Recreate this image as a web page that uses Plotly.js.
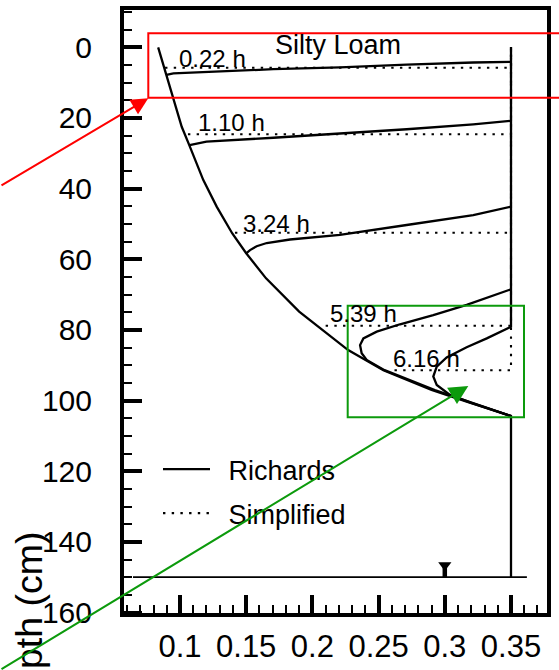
<!DOCTYPE html>
<html><head><meta charset="utf-8">
<script src="https://cdn.plot.ly/plotly-3.0.1.min.js"></script>
<style>html,body{margin:0;padding:0;background:#fff}#chart{width:559px;height:670px}</style>
</head><body><div id="chart"></div>
<script>
// ---- data (water content theta vs depth, cm) ----
const envTheta = [0.0835, 0.0895, 0.0950, 0.1013, 0.1070, 0.1176, 0.1277, 0.1395, 0.1500, 0.1650, 0.1900, 0.2270, 0.2536, 0.2900, 0.3165, 0.3505];
const envDepth = [0, 7.4, 14.9, 22.5, 27.7, 37.6, 45.1, 52.7, 58.3, 65.4, 74.8, 85.7, 91.4, 97.0, 100.3, 104.4];

const r022Theta = [0.35, 0.3215, 0.2712, 0.2208, 0.1705, 0.1200, 0.0950, 0.0898];
const r022Depth = [4.1, 4.3, 4.9, 5.7, 6.2, 6.9, 7.4, 7.8];
const r110Theta = [0.35, 0.3215, 0.2712, 0.2208, 0.1705, 0.1200, 0.1072];
const r110Depth = [20.8, 21.8, 23.2, 24.5, 25.6, 26.7, 27.7];
const r324Theta = [0.35, 0.3215, 0.2712, 0.2208, 0.1831, 0.1655, 0.1579, 0.1529, 0.1500];
const r324Depth = [45.1, 47.5, 50.3, 53.1, 54.4, 55.4, 56.3, 57.4, 58.3];
const r539Theta = [0.35, 0.3165, 0.2913, 0.2662, 0.2486, 0.2385, 0.2360, 0.2372, 0.2410, 0.2486, 0.2545, 0.2925, 0.3185, 0.35];
const r539Depth = [68.5, 72.9, 75.8, 78.4, 80.5, 82.4, 84.3, 86.6, 88.5, 90.2, 91.4, 97.0, 100.3, 104.4];
const r616Theta = [0.35, 0.35, 0.3317, 0.3165, 0.3014, 0.2939, 0.2913, 0.2939, 0.3039, 0.3195, 0.35, 0.35];
const r616Depth = [0, 79.1, 82.4, 84.9, 87.8, 90.4, 93.2, 95.6, 98.4, 100.6, 104.4, 150];

const thetaSat = 0.35;
const simpFrontDepth = [5.8, 24.6, 52.5, 78.8, 91.4];
const simpFrontTheta0 = [0.0887, 0.1060, 0.1415, 0.2100, 0.2620];
const timeLabels = ["0.22 h", "1.10 h", "3.24 h", "5.39 h", "6.16 h"];
const labelTheta = [0.0980, 0.1123, 0.1463, 0.2117, 0.2597];
const labelDepth = [3.2, 21.3, 49.8, 75.3, 88.2];

const waterTableDepth = 150;
const waterTableTheta = [0.0645, 0.362];
const wtMarkerTheta = 0.30;
const wtMarkerDepth = 146.6;

const xTickVals = [0.1, 0.15, 0.2, 0.25, 0.3, 0.35];
const xTickText = ["0.1", "0.15", "0.2", "0.25", "0.3", "0.35"];
const yTickVals = [0, 20, 40, 60, 80, 100, 120, 140, 160];
const yTickText = ["0", "20", "40", "60", "80", "100", "120", "140", "160"];

const FONT = "Liberation Sans, Arial, Helvetica, sans-serif";
const solid = {color: "black", width: 2.3};
const dotted = {color: "black", width: 2.1, dash: "2.4px,6.3px"};

const traces = [];
// simplified (dotted) profiles first so solid lines sit on top
simpFrontDepth.forEach((d, i) => {
  traces.push({
    type: "scatter", mode: "lines",
    x: [simpFrontTheta0[i], thetaSat, thetaSat],
    y: [d, d, 0],
    line: dotted, name: "\u2002Simplified", legendgroup: "s",
    showlegend: i === 0, legendrank: 2, hoverinfo: "skip"
  });
});
traces.push({type: "scatter", mode: "lines", x: envTheta, y: envDepth, line: solid,
  name: "\u2002Richards", legendgroup: "r", showlegend: true, legendrank: 1, hoverinfo: "skip"});
[[r022Theta, r022Depth], [r110Theta, r110Depth], [r324Theta, r324Depth],
 [r539Theta, r539Depth], [r616Theta, r616Depth]].forEach(p => {
  traces.push({type: "scatter", mode: "lines", x: p[0], y: p[1], line: solid,
    showlegend: false, hoverinfo: "skip"});
});
traces.push({type: "scatter", mode: "lines", x: waterTableTheta,
  y: [waterTableDepth, waterTableDepth], line: {color: "black", width: 1.8},
  showlegend: false, hoverinfo: "skip"});
traces.push({type: "scatter", mode: "lines", x: [wtMarkerTheta, wtMarkerTheta],
  y: [wtMarkerDepth, waterTableDepth], line: {color: "black", width: 4.5},
  showlegend: false, hoverinfo: "skip"});
traces.push({type: "scatter", mode: "markers", x: [wtMarkerTheta], y: [wtMarkerDepth],
  marker: {symbol: "triangle-down", size: 11.5, color: "black"},
  showlegend: false, hoverinfo: "skip"});

// plot area in pixels
const L = 122, R = 10, T = 8, B = 55, W = 559 - L - R, H = 670 - T - B;
const px = v => (v - L) / W;
const py = v => (670 - B - v) / H;

const annotations = timeLabels.map((t, i) => ({
  x: labelTheta[i], y: labelDepth[i], xref: "x", yref: "y", text: t,
  showarrow: false, xanchor: "left", yanchor: "middle",
  font: {family: FONT, size: 24, color: "black"}
}));
annotations.push({x: 0.2193, y: -0.65, xref: "x", yref: "y", text: "Silty Loam",
  showarrow: false, xanchor: "center", yanchor: "middle",
  font: {family: FONT, size: 27, color: "black"}});
annotations.push({x: px(29), y: py(625), xref: "paper", yref: "paper", text: "Depth (cm)",
  textangle: -90, showarrow: false, xanchor: "center", yanchor: "middle",
  font: {family: FONT, size: 37.5, color: "black"}});
// overlay arrows
annotations.push({x: px(148.3), y: py(98.3), xref: "paper", yref: "paper", text: "",
  showarrow: true, ax: -148.3, ay: 88, arrowhead: 2, arrowsize: 1.7, arrowwidth: 2,
  arrowcolor: "#ff0000", standoff: 0});
annotations.push({x: px(468.3), y: py(386), xref: "paper", yref: "paper", text: "",
  showarrow: true, ax: -468.3, ay: 285.7, arrowhead: 2, arrowsize: 1.9, arrowwidth: 2,
  arrowcolor: "#0c9a0c", standoff: 0});

const shapes = [
  {type: "rect", xref: "paper", yref: "paper", x0: 0, x1: 1, y0: 0, y1: 1,
   line: {color: "black", width: 4}, layer: "above"},
  {type: "rect", xref: "paper", yref: "paper", x0: px(148.3), x1: px(575), y0: py(33.3), y1: py(97.7),
   line: {color: "#ff0000", width: 2}, layer: "above"},
  {type: "rect", xref: "paper", yref: "paper", x0: px(347.7), x1: px(524), y0: py(305.7), y1: py(417.3),
   line: {color: "#0c9a0c", width: 2}, layer: "above"}
];

const layout = {
  width: 559, height: 670,
  margin: {l: L, r: R, t: T, b: B, pad: 0},
  paper_bgcolor: "white", plot_bgcolor: "white",
  font: {family: FONT, color: "black"},
  showlegend: true,
  legend: {x: px(158), y: py(445), xanchor: "left", yanchor: "top",
    font: {family: FONT, size: 27, color: "black"}, bgcolor: "rgba(0,0,0,0)",
    borderwidth: 0, itemwidth: 47, tracegroupgap: 6},
  xaxis: {range: [0.05619, 0.3787], showgrid: false, zeroline: false, showline: false,
    tickmode: "array", tickvals: xTickVals, ticktext: xTickText,
    ticks: "inside", ticklen: 20, tickwidth: 4, tickcolor: "black",
    tickfont: {family: FONT, size: 31, color: "black"}, ticklabelstandoff: 10,
    minor: {tickmode: "linear", tick0: 0, dtick: 0.01, ticks: "inside", ticklen: 10,
      tickwidth: 2, tickcolor: "black", showgrid: false}},
  yaxis: {range: [160.7, -11.13], showgrid: false, zeroline: false, showline: false,
    tickmode: "array", tickvals: yTickVals, ticktext: yTickText,
    ticks: "inside", ticklen: 20, tickwidth: 4, tickcolor: "black",
    tickfont: {family: FONT, size: 30, color: "black"}, ticklabelstandoff: 29,
    minor: {tickmode: "linear", tick0: 0, dtick: 5, ticks: "inside", ticklen: 10,
      tickwidth: 2, tickcolor: "black", showgrid: false}},
  annotations: annotations,
  shapes: shapes
};

Plotly.newPlot("chart", traces, layout, {staticPlot: true, displayModeBar: false});
</script>
</body></html>
